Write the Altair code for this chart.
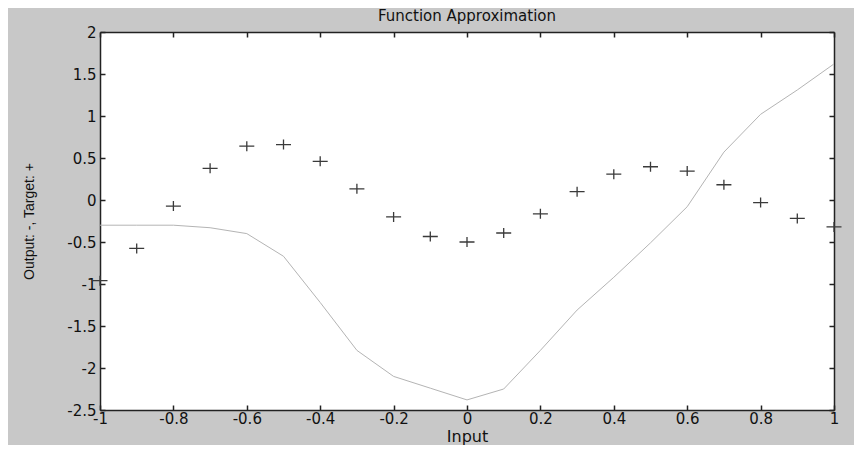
import altair as alt
import pandas as pd

# Input values
inputs = [-1.0, -0.9, -0.8, -0.7, -0.6, -0.5, -0.4, -0.3, -0.2, -0.1, 0.0,
          0.1, 0.2, 0.3, 0.4, 0.5, 0.6, 0.7, 0.8, 0.9, 1.0]
# Targets (+)
targets = [-0.9602, -0.5770, -0.0729, 0.3771, 0.6405, 0.6600, 0.4609, 0.1336,
           -0.2013, -0.4344, -0.5000, -0.3930, -0.1647, 0.0988, 0.3072, 0.3960,
           0.3449, 0.1816, -0.0312, -0.2189, -0.3201]
# Network output (-)
outputs = [-0.30, -0.30, -0.30, -0.33, -0.40, -0.67, -1.22, -1.79, -2.10, -2.24,
           -2.38, -2.25, -1.79, -1.31, -0.92, -0.51, -0.08, 0.57, 1.02, 1.31, 1.62]

x_ticks = [-1, -0.8, -0.6, -0.4, -0.2, 0, 0.2, 0.4, 0.6, 0.8, 1]
y_ticks = [-2.5, -2, -1.5, -1, -0.5, 0, 0.5, 1, 1.5, 2]

df = pd.DataFrame({"Input": inputs, "Target": targets, "Output": outputs})

FONT = "DejaVu Sans"
TICK_IN = {"expr": "-5"}

x_scale = alt.Scale(domain=[-1, 1], nice=False, zero=False)
y_scale = alt.Scale(domain=[-2.5, 2], nice=False, zero=False)

common_axis = dict(
    domainColor="#222222", domainWidth=1.5, tickColor="#222222", tickWidth=1.5,
    tickSize=TICK_IN, grid=False, labelFont=FONT, labelFontSize=15,
    labelColor="#111111", labelFlush=False,
    titleColor="#111111", titleFontWeight="normal",
)

line = alt.Chart(df).mark_line(color="#b4b4b4", strokeWidth=1, clip=False).encode(
    x=alt.X("Input:Q", scale=x_scale,
            axis=alt.Axis(orient="bottom", values=x_ticks, title="Input",
                          labelExpr="datum.value + ''", labelPadding=6,
                          titleFont=FONT, titleFontSize=16, titlePadding=2,
                          **common_axis)),
    y=alt.Y("Output:Q", scale=y_scale,
            axis=alt.Axis(orient="left", values=y_ticks,
                          title="Output: -, Target: +",
                          labelExpr="datum.value + ''", labelPadding=9,
                          titleFontSize=14, titleFont="Liberation Sans",
                          titlePadding=30, **common_axis)),
)

plus_path = "M-1.5,0H1.5M0,-1V1"
points = alt.Chart(df).mark_point(
    shape=plus_path, size=100, filled=False, stroke="#3a3a3a",
    strokeWidth=1.3, opacity=1, clip=False,
).encode(
    x=alt.X("Input:Q", scale=x_scale,
            axis=alt.Axis(orient="top", values=x_ticks, labels=False, title=None,
                          domainColor="#222222", domainWidth=1.5,
                          tickColor="#222222", tickWidth=1.5, tickSize=TICK_IN,
                          grid=False)),
    y=alt.Y("Target:Q", scale=y_scale,
            axis=alt.Axis(orient="right", values=y_ticks, labels=False, title=None,
                          domainColor="#222222", domainWidth=1.5,
                          tickColor="#222222", tickWidth=1.5, tickSize=TICK_IN,
                          grid=False)),
)

chart = alt.layer(line, points).resolve_axis(
    x="independent", y="independent"
).properties(
    width=734, height=378,
    autosize=alt.AutoSizeParams(type="none"),
    padding={"left": 92, "top": 24, "right": 20, "bottom": 35},
    background="#c8c8c8",
    title=alt.Title("Function Approximation", font=FONT, fontSize=15,
                    fontWeight="normal", color="#111111", offset=1),
).configure_view(
    stroke=None, fill="white"
)

chart.save("out.html", embed_options={"renderer": "svg", "actions": False})
